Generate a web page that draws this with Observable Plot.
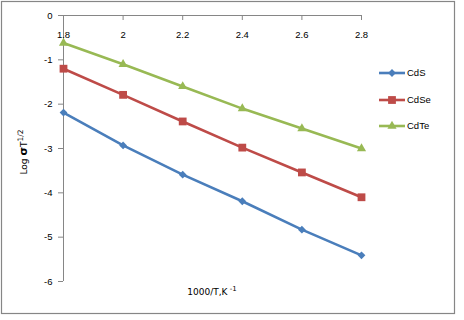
<!DOCTYPE html>
<html>
<head>
<meta charset="utf-8">
<script src="https://cdn.jsdelivr.net/npm/d3@7"></script>
<script src="https://cdn.jsdelivr.net/npm/@observablehq/plot@0.6"></script>
<style>
  html, body { margin: 0; padding: 0; background: #fff; }
</style>
</head>
<body>
<div id="chart"></div>
<script>
const xValues = [1.8, 2.0, 2.2, 2.4, 2.6, 2.8];
const seriesNames = ["CdS", "CdSe", "CdTe"];
const cdS  = [-2.19, -2.93, -3.59, -4.19, -4.83, -5.41];
const cdSe = [-1.2, -1.79, -2.39, -2.98, -3.54, -4.1];
const cdTe = [-0.62, -1.1, -1.6, -2.1, -2.55, -3.0];
const xTicks = [1.8, 2, 2.2, 2.4, 2.6, 2.8];
const xTickLabels = ["1.8", "2", "2.2", "2.4", "2.6", "2.8"];
const yTicks = [0, -1, -2, -3, -4, -5, -6];

const colors = ["#4A7EBB", "#BE4B48", "#98B954"];
const seriesValues = [cdS, cdSe, cdTe];
// marker styles: symbol, radius, rotation
const markerSymbols = ["square", "square", "triangle"];
const markerR = [3.1, 4.4, 3.4];
const markerRotate = [45, 0, 0];

const data = [];
seriesNames.forEach((s, i) => {
  xValues.forEach((x, j) => data.push({series: s, x, y: seriesValues[i][j]}));
});

const chart = Plot.plot({
  width: 464,
  height: 320,
  marginLeft: 63,
  marginRight: 103,
  marginTop: 15,
  marginBottom: 39,
  style: {fontFamily: "'Liberation Sans', Arial, sans-serif", fontSize: "9.5px", color: "#000", background: "transparent"},
  x: {domain: [1.8, 2.8]},
  y: {domain: [-6, 0]},
  color: {domain: seriesNames, range: colors},
  marks: [
    Plot.ruleY([0], {stroke: "#868686", strokeWidth: 1}),
    Plot.ruleX([1.8], {stroke: "#868686", strokeWidth: 1}),
    Plot.ruleX(xTicks, {x: d => d, y1: 0, y2: -0.113, stroke: "#868686"}),
    Plot.text(xTicks, {x: d => d, frameAnchor: "top", dy: 16, text: (d, i) => xTickLabels[i], fill: "#000"}),
    Plot.axisY({ticks: yTicks, tickFormat: d => String(d), tickSize: 5, tickPadding: 6, stroke: "#868686", fill: "#000", label: null}),
    Plot.axisX({ticks: [], label: null}),
    Plot.line(data, {x: "x", y: "y", z: "series", stroke: "series", strokeWidth: 2.6}),
    ...seriesNames.map((s, i) =>
      Plot.dot(data.filter(d => d.series === s), {
        x: "x", y: "y", fill: "series", symbol: markerSymbols[i], r: markerR[i], rotate: markerRotate[i], stroke: "none"
      })
    )
  ]
});

document.getElementById("chart").appendChild(chart);

const svg = d3.select(chart);

// Border
svg.insert("rect", ":first-child")
  .attr("x", 1.5).attr("y", 1.5).attr("width", 453).attr("height", 312)
  .attr("fill", "#fff").attr("stroke", "#868686").attr("stroke-width", 1.2);

// Y-axis title
const yt = svg.append("text")
  .attr("transform", "translate(27,152) rotate(-90)")
  .attr("text-anchor", "middle")
  .style("font-family", "'DejaVu Sans', Verdana, sans-serif")
  .style("font-size", "9px")
  .attr("fill", "#000");
yt.append("tspan").text("Log ");
yt.append("tspan").attr("font-weight", "bold").style("font-size", "11px").text("σ");
yt.append("tspan").text("T");
yt.append("tspan").attr("dy", -4).style("font-size", "7.5px").text("1/2");

// X-axis title
const xt = svg.append("text")
  .attr("x", 212).attr("y", 295)
  .attr("text-anchor", "middle")
  .style("font-family", "'DejaVu Sans', Verdana, sans-serif")
  .style("font-size", "9px")
  .attr("fill", "#000");
xt.append("tspan").text("1000/T,K");
xt.append("tspan").attr("dy", -4).style("font-size", "7px").text(" -1");

// Legend
const legendY = [73, 100, 126];
const legendSym = [d3.symbolSquare, d3.symbolSquare, d3.symbolTriangle];
seriesNames.forEach((s, i) => {
  const g = svg.append("g");
  g.append("line").attr("x1", 379).attr("x2", 405).attr("y1", legendY[i]).attr("y2", legendY[i])
    .attr("stroke", colors[i]).attr("stroke-width", 2.6);
  g.append("path")
    .attr("d", d3.symbol(legendSym[i], Math.PI * markerR[i] * markerR[i])())
    .attr("transform", `translate(392,${legendY[i]}) rotate(${markerRotate[i]})`)
    .attr("fill", colors[i]);
  g.append("text").attr("x", 407).attr("y", legendY[i]).attr("dy", "0.35em")
    .attr("text-anchor", "start")
    .style("font-family", "'Liberation Sans', Arial, sans-serif").style("font-size", "9.5px")
    .attr("fill", "#000").text(s);
});
</script>
</body>
</html>
